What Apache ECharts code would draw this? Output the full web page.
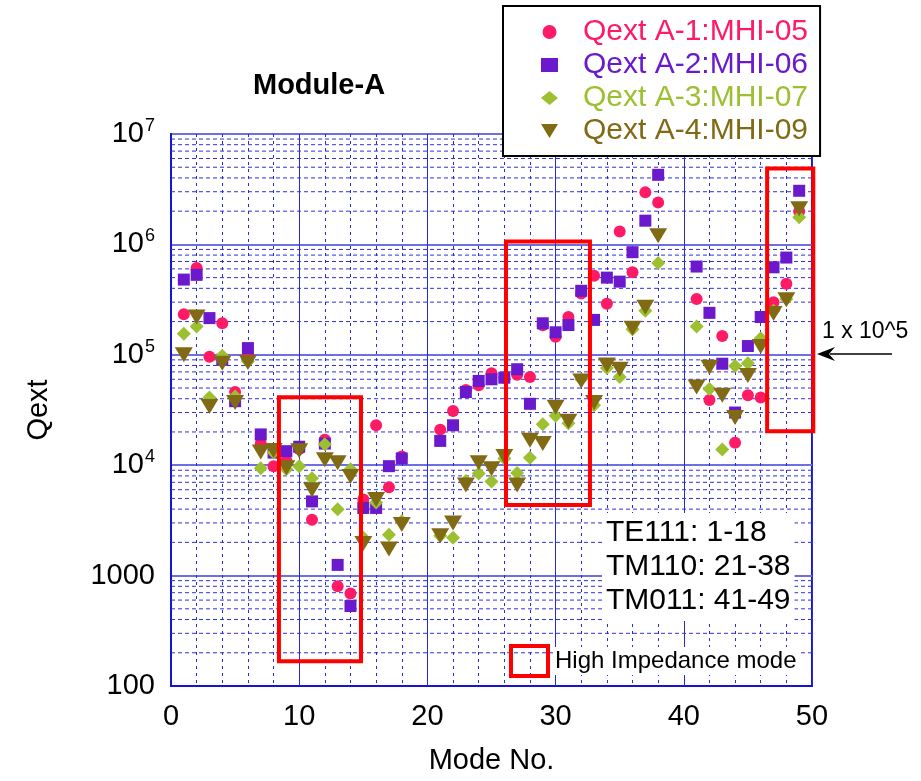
<!DOCTYPE html>
<html>
<head>
<meta charset="utf-8">
<script src="https://cdn.jsdelivr.net/npm/echarts@6/dist/echarts.min.js"></script>
<style>
  html, body { margin: 0; padding: 0; background: #fff; }
  #chart { width: 921px; height: 781px; }
</style>
</head>
<body>
<div id="chart"></div>
<script>
// mode numbers (TE111: 1-18, TM110: 21-38, TM011: 41-49)
const modes = [1, 2, 3, 4, 5, 6, 7, 8, 9, 10, 11, 12, 13, 14, 15, 16, 17, 18,
    21, 22, 23, 24, 25, 26, 27, 28, 29, 30, 31, 32, 33, 34, 35, 36, 37, 38,
    41, 42, 43, 44, 45, 46, 47, 48, 49];

// Qext values
const qextA1 = [2.33e5, 6.1e5, 9.6e4, 1.93e5, 4.6e4, 1.0e5, 1.57e4, 9.8e3, 1.1e4, 1.4e4, 3.2e3, 1.7e4, 8.0e2, 6.9e2, 4.9e3, 2.3e4, 6.3e3, 1.2e4,
    2.1e4, 3.1e4, 4.8e4, 5.3e4, 6.8e4, 6.2e4, 6.6e4, 6.3e4, 1.85e5, 1.46e5, 2.2e5, 3.6e5, 5.2e5, 2.9e5, 1.31e6, 5.6e5, 2.96e6, 2.4e6,
    3.2e5, 3.9e4, 1.48e5, 1.6e4, 4.3e4, 4.1e4, 3.0e5, 4.4e5, 2.0e6];
const qextA2 = [4.8e5, 5.3e5, 2.15e5, 9.0e4, 3.8e4, 1.15e5, 1.9e4, 1.3e4, 1.34e4, 1.47e4, 4.7e3, 1.57e4, 1.25e3, 5.3e2, 4.1e3, 4.1e3, 9.8e3, 1.15e4,
    1.66e4, 2.3e4, 4.6e4, 5.8e4, 6.0e4, 6.2e4, 7.4e4, 3.6e4, 1.93e5, 1.6e5, 1.86e5, 3.8e5, 2.07e5, 5.0e5, 4.6e5, 8.5e5, 1.64e6, 4.27e6,
    6.3e5, 2.4e5, 8.3e4, 3.0e4, 1.2e5, 2.2e5, 6.2e5, 7.6e5, 3.06e6];
const qextA3 = [1.55e5, 1.8e5, 4.1e4, 9.8e4, 4.2e4, 8.7e4, 9.4e3, 1.3e4, 9.2e3, 9.8e3, 7.6e3, 1.55e4, 4.0e3, 9.2e3, 2.2e3, 4.6e3, 2.35e3, 3.1e3,
    2.3e3, 2.2e3, 7.2e3, 8.4e3, 7.1e3, 1.15e4, 8.5e3, 1.17e4, 2.35e4, 2.8e4, 2.4e4, 6.0e4, 3.5e4, 7.6e4, 6.3e4, 1.7e5, 2.5e5, 6.8e5,
    1.8e5, 4.9e4, 1.39e4, 7.9e4, 8.4e4, 1.41e5, 2.5e5, 3.2e5, 1.76e6];
const qextA4 = [1.0e5, 2.2e5, 3.4e4, 8.4e4, 3.7e4, 8.5e4, 1.32e4, 1.36e4, 9.5e3, 1.35e4, 6.0e3, 1.12e4, 1.05e4, 7.9e3, 1.95e3, 4.9e3, 1.74e3, 2.9e3,
    2.3e3, 3.0e3, 6.6e3, 1.05e4, 9.3e3, 1.2e4, 6.6e3, 1.68e4, 1.57e4, 3.35e4, 2.5e4, 5.8e4, 3.7e4, 8.1e4, 7.4e4, 1.74e5, 2.7e5, 1.2e6,
    5.1e4, 7.7e4, 4.3e4, 2.7e4, 6.5e4, 1.19e5, 2.37e5, 3.15e5, 2.1e6];

const seriesNames = ['Qext A-1:MHI-05', 'Qext A-2:MHI-06', 'Qext A-3:MHI-07', 'Qext A-4:MHI-09'];

// high impedance mode boxes: [xFrom, yFrom, xTo, yTo]
const highImpBoxes = [
    [8.42, 168, 14.82, 4.12e4],
    [26.13, 4.35e3, 32.68, 1.06e6],
    [46.5, 2.03e4, 50.1, 4.87e6]
];

// axis ticks
const xTicks = [0, 10, 20, 30, 40, 50];
const yDecades = [100, 1000, 1e4, 1e5, 1e6];
const minorMult = [2, 3, 4, 5, 6, 7, 8, 9];

const FONT = '"Liberation Sans", Arial, sans-serif';
const colors = ['#ff1a66', '#6a1acc', '#9cc030', '#806a14'];
const triPath = 'path://M0,0L16,0L8,13Z';
const symbols = ['circle', 'rect', 'diamond', triPath];
const symbolSizes = [12, 12, 14, [18, 15]];
const legendIconSizes = [[12, 12], [13, 13], [15, 15], [17, 14]];
const allValues = [qextA1, qextA2, qextA3, qextA4];

// minor gridlines (2..9 x decade)
const minorLines = [];
yDecades.forEach(d => minorMult.forEach(m => minorLines.push([0, d * m])));

const chart = echarts.init(document.getElementById('chart'));

const scatterSeries = seriesNames.map((name, i) => ({
    name: name,
    type: 'scatter',
    z: 3,
    symbol: symbols[i],
    symbolSize: symbolSizes[i],
    itemStyle: { color: colors[i], opacity: 1 },
    data: modes.map((m, k) => [m, allValues[i][k]])
}));

chart.setOption({
    animation: false,
    title: {
        text: 'Module-A',
        left: 253, top: 71, padding: 0,
        textStyle: { fontFamily: FONT, fontSize: 29, fontWeight: 'bold', color: '#000' }
    },
    legend: {
        orient: 'vertical',
        left: 503, top: 6,
        backgroundColor: '#fff',
        borderColor: '#000', borderWidth: 2, borderRadius: 0,
        padding: [11, 12, 10, 38],
        itemWidth: 17, itemHeight: 14, itemGap: 3,
        textStyle: { fontFamily: FONT, fontSize: 30, lineHeight: 28, padding: [0, 0, 0, 20] },
        data: seriesNames.map((n, i) => ({
            name: n,
            icon: symbols[i],
            itemStyle: { color: colors[i] },
            textStyle: { color: colors[i] }
        }))
    },
    grid: {
        left: 171, top: 134, width: 641, height: 552,
        show: true, borderColor: '#1414d2', borderWidth: 2, backgroundColor: 'transparent'
    },
    xAxis: {
        type: 'value', min: 0, max: 50, interval: 10,
        name: 'Mode No.', nameLocation: 'middle', nameGap: 60,
        nameTextStyle: { fontFamily: FONT, fontSize: 29, color: '#000' },
        axisLine: { lineStyle: { color: '#1414d2', width: 2 } },
        axisTick: { show: false },
        minorTick: { show: false, splitNumber: 5 },
        axisLabel: {
            fontFamily: FONT, fontSize: 29, color: '#000', margin: 16,
            formatter: v => xTicks.includes(v) ? String(v) : ''
        },
        splitLine: { show: true, lineStyle: { color: '#2a2ad8', width: 1 } },
        minorSplitLine: { show: true, lineStyle: { color: '#2a2ad8', width: 1, type: [3, 4] } }
    },
    yAxis: {
        type: 'log', logBase: 10, min: 100, max: 1e7,
        name: 'Qext', nameLocation: 'middle', nameGap: 118,
        nameTextStyle: { fontFamily: FONT, fontSize: 29, color: '#000' },
        axisLine: { lineStyle: { color: '#1414d2', width: 2 } },
        axisTick: { show: false },
        axisLabel: {
            fontFamily: FONT, fontSize: 29, color: '#000', margin: 16,
            formatter: v => {
                const e = Math.round(Math.log10(v));
                return e >= 4 ? '{b|10}{s|' + e + '}' : String(Math.round(Math.pow(10, e)));
            },
            rich: {
                b: { fontFamily: FONT, fontSize: 29, color: '#000' },
                s: { fontFamily: FONT, fontSize: 18, color: '#000', padding: [0, 0, 16, 1] }
            }
        },
        splitLine: { show: true, lineStyle: { color: '#6f6fe4', width: 2 } }
    },
    series: [
        {
            // minor log gridlines
            type: 'custom',
            z: 1,
            silent: true,
            data: minorLines,
            renderItem: (params, api) => {
                const cs = params.coordSys;
                const y = api.coord([0, api.value(1)])[1];
                return {
                    type: 'line',
                    shape: { x1: cs.x, y1: y, x2: cs.x + cs.width, y2: y },
                    style: { stroke: '#3030d8', lineWidth: 1, lineDash: [4, 3] }
                };
            }
        },
        ...scatterSeries,
        {
            // high impedance mode frames
            type: 'custom',
            z: 10,
            silent: true,
            encode: { x: [0, 2], y: [1, 3] },
            data: highImpBoxes,
            renderItem: (params, api) => {
                const p0 = api.coord([api.value(0), api.value(3)]);
                const p1 = api.coord([api.value(2), api.value(1)]);
                return {
                    type: 'rect',
                    shape: { x: p0[0], y: p0[1], width: p1[0] - p0[0], height: p1[1] - p0[1] },
                    style: { fill: 'none', stroke: '#ff0000', lineWidth: 4 }
                };
            }
        }
    ],
    graphic: [
        {
            type: 'text', left: 602, top: 513, z: 20,
            style: {
                text: 'TE111: 1-18\nTM110: 21-38\nTM011: 41-49',
                font: '30px ' + FONT, fill: '#000', lineHeight: 34,
                backgroundColor: '#fff', padding: [3, 4, 3, 4]
            }
        },
        {
            type: 'rect', z: 20,
            shape: { x: 511, y: 646, width: 37, height: 30 },
            style: { fill: 'none', stroke: '#ff0000', lineWidth: 4 }
        },
        {
            type: 'text', left: 553, top: 647, z: 20,
            style: {
                text: 'High Impedance mode', font: '24px ' + FONT, fill: '#000',
                backgroundColor: '#fff', padding: [2, 3, 2, 2]
            }
        },
        {
            type: 'text', left: 822, top: 320, z: 20,
            style: { text: '1 x 10^5', font: '23px ' + FONT, fill: '#000' }
        },
        {
            type: 'line', z: 20,
            shape: { x1: 830, y1: 354, x2: 892, y2: 354 },
            style: { stroke: '#000', lineWidth: 1.5 }
        },
        {
            type: 'polygon', z: 20,
            shape: { points: [[817, 354], [835, 347], [829, 354], [835, 361]] },
            style: { fill: '#000' }
        }
    ]
});
</script>
</body>
</html>
